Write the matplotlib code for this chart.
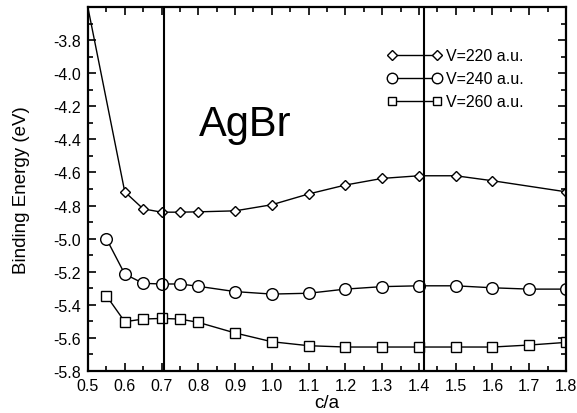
import matplotlib
matplotlib.use("Agg")
import matplotlib.pyplot as plt
from matplotlib.ticker import MultipleLocator, FormatStrFormatter
from matplotlib.legend_handler import HandlerLine2D

plt.rcParams['font.family'] = ['Liberation Sans', 'DejaVu Sans']

# binding energy vs c/a for three cell volumes
ca_220 = [0.45, 0.6, 0.65, 0.7, 0.75, 0.8, 0.9, 1.0, 1.1, 1.2, 1.3, 1.4, 1.5, 1.6, 1.8]
e_220 = [-3.05, -4.717, -4.82, -4.84, -4.84, -4.838, -4.832, -4.795, -4.73,
         -4.676, -4.636, -4.62, -4.62, -4.65, -4.717]

ca_240 = [0.55, 0.6, 0.65, 0.7, 0.75, 0.8, 0.9, 1.0, 1.1, 1.2, 1.3, 1.4, 1.5, 1.6, 1.7, 1.8]
e_240 = [-5.0, -5.214, -5.27, -5.274, -5.274, -5.288, -5.32, -5.335, -5.33,
         -5.305, -5.29, -5.285, -5.285, -5.297, -5.305, -5.305]

ca_260 = [0.55, 0.6, 0.65, 0.7, 0.75, 0.8, 0.9, 1.0, 1.1, 1.2, 1.3, 1.4, 1.5, 1.6, 1.7, 1.8]
e_260 = [-5.345, -5.502, -5.486, -5.482, -5.486, -5.506, -5.57, -5.623, -5.647,
         -5.655, -5.655, -5.655, -5.655, -5.655, -5.643, -5.627]

# reference ratios marked by vertical lines: 1/sqrt(2) and sqrt(2)
ca_ref = [0.7071, 1.4142]

fig = plt.figure(figsize=(5.77, 4.14), dpi=100)
ax = fig.add_axes([0.1525, 0.1014, 0.8285, 0.8793])

style = dict(color='black', linewidth=1.0, markerfacecolor='white',
             markeredgecolor='black', markeredgewidth=1.0)
ax.plot(ca_220, e_220, marker='D', markersize=5.4, label='V=220 a.u.', **style)
ax.plot(ca_240, e_240, marker='o', markersize=8.4, label='V=240 a.u.', **style)
ax.plot(ca_260, e_260, marker='s', markersize=6.5, label='V=260 a.u.', **style)

for x in ca_ref:
    ax.axvline(x, color='black', linewidth=1.5)

ax.set_xlim(0.5, 1.8)
ax.set_ylim(-5.8, -3.6)
ax.xaxis.set_major_locator(MultipleLocator(0.1))
ax.xaxis.set_minor_locator(MultipleLocator(0.05))
ax.set_yticks([v / 10 for v in range(-58, -37, 2)])
ax.yaxis.set_minor_locator(MultipleLocator(0.1))
ax.xaxis.set_major_formatter(FormatStrFormatter('%.1f'))
ax.yaxis.set_major_formatter(FormatStrFormatter('%.1f'))

ax.tick_params(which='both', direction='in', top=True, right=True,
               labelsize=11.5, width=1.2, pad=5)
ax.tick_params(which='major', length=6)
ax.tick_params(which='minor', length=3.5)
for s in ax.spines.values():
    s.set_linewidth(1.6)

ax.set_xlabel('c/a', fontsize=13.5)
ax.set_ylabel('Binding Energy (eV)', fontsize=13.5)
ax.xaxis.set_label_coords(0.5, -0.063)
ax.yaxis.set_label_coords(-0.122, 0.5)

ax.text(0.927, -4.31, 'AgBr', fontsize=30, ha='center', va='center')

ax.legend(loc='upper left', bbox_to_anchor=(0.636, 0.886), frameon=False,
          numpoints=2, handlelength=2.8, handletextpad=0.55, labelspacing=0.5,
          borderpad=0, borderaxespad=0, markerscale=0.9, fontsize=11.5,
          handler_map={plt.Line2D: HandlerLine2D(marker_pad=0)})

fig.savefig('out.png', dpi=100)
